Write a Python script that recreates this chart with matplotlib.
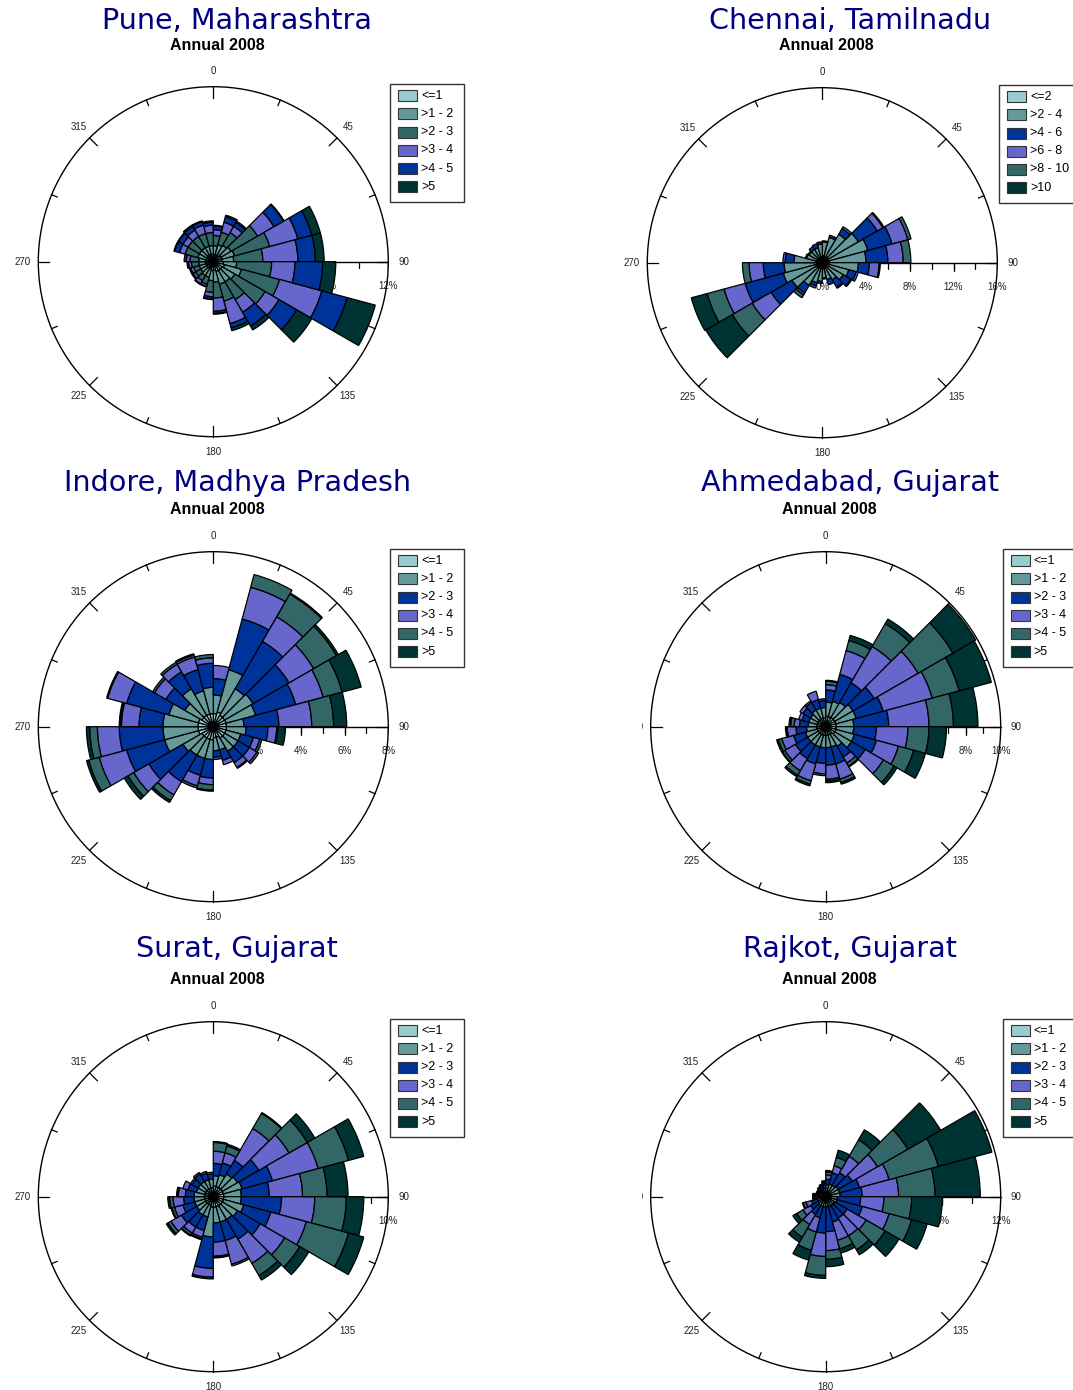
import numpy as np
import matplotlib
matplotlib.use("Agg")
import matplotlib.pyplot as plt
from matplotlib.patches import Rectangle
from matplotlib.transforms import offset_copy, Bbox, TransformedBbox

# wind direction sectors (start of each 15 degree bin)
sectors = list(range(0, 360, 15))

# wind speed classes for each station
pune_classes = ["<=1", ">1 - 2", ">2 - 3", ">3 - 4", ">4 - 5", ">5"]
chennai_classes = ["<=2", ">2 - 4", ">4 - 6", ">6 - 8", ">8 - 10", ">10"]
std_classes = ["<=1", ">1 - 2", ">2 - 3", ">3 - 4", ">4 - 5", ">5"]

# frequency (%) per speed class, one row per class, one value per sector
pune = [
    [0.5, 0.5, 0.5, 0.6, 0.6, 0.6, 0.7, 0.8, 0.7, 0.7, 0.7, 0.6, 0.6, 0.5, 0.5, 0.5, 0.5, 0.5, 0.5, 0.5, 0.5, 0.5, 0.5, 0.5],
    [0.6, 0.7, 0.8, 0.8, 0.9, 0.8, 0.9, 1.2, 1.0, 0.9, 0.9, 0.8, 0.7, 0.6, 0.6, 0.5, 0.5, 0.5, 0.5, 0.6, 0.6, 0.6, 0.6, 0.6],
    [0.7, 0.9, 1.0, 2.1, 2.5, 2.0, 2.4, 2.7, 2.4, 1.4, 1.2, 1.1, 0.8, 0.5, 0.4, 0.4, 0.4, 0.5, 0.6, 0.9, 0.9, 0.9, 0.9, 0.9],
    [0.4, 0.7, 0.5, 1.3, 2.0, 2.4, 1.6, 3.0, 1.1, 1.0, 1.6, 0.9, 0.3, 0.15, 0.25, 0.2, 0.2, 0.2, 0.25, 0.4, 0.4, 0.5, 0.6, 0.5],
    [0.25, 0.4, 0.3, 0.75, 1.0, 1.2, 1.9, 1.8, 1.4, 1.1, 0.3, 0.15, 0.15, 0.05, 0.05, 0.1, 0.1, 0.1, 0.15, 0.35, 0.35, 0.3, 0.25, 0.2],
    [0.05, 0.1, 0.1, 0.05, 0.6, 0.6, 0.9, 2.0, 1.2, 0.3, 0.2, 0.05, 0.05, 0, 0, 0, 0, 0, 0, 0.05, 0.05, 0.1, 0.05, 0.1],
]

chennai = [
    [0.6, 0.6, 0.6, 0.6, 0.6, 0.6, 0.6, 0.5, 0.5, 0.5, 0.5, 0.5, 0.5, 0.5, 0.5, 0.6, 0.6, 0.5, 0.5, 0.5, 0.5, 0.5, 0.5, 0.5],
    [1.3, 1.8, 2.4, 3.2, 3.7, 3.4, 2.7, 2.0, 1.7, 1.3, 1.1, 0.9, 1.2, 1.4, 1.9, 2.6, 3.1, 3.0, 2.1, 1.0, 0.9, 0.9, 0.9, 1.2],
    [0.1, 0.2, 0.6, 2.0, 2.3, 2.0, 1.0, 0.7, 0.8, 0.8, 0.5, 0.1, 0.2, 0.3, 0.8, 2.2, 3.6, 1.9, 0.8, 0.1, 0.1, 0.3, 0.4, 0.2],
    [0, 0, 0.2, 0.6, 1.5, 1.4, 0.9, 0.2, 0.1, 0.1, 0, 0, 0, 0.2, 0.2, 2.0, 2.0, 1.3, 0.2, 0, 0, 0, 0, 0],
    [0, 0, 0, 0.1, 0.3, 0.7, 0.1, 0, 0, 0, 0, 0, 0, 0, 0.3, 2.1, 1.6, 0.6, 0, 0, 0, 0, 0, 0],
    [0, 0, 0, 0, 0, 0, 0, 0, 0, 0, 0, 0, 0, 0, 0, 2.8, 1.5, 0, 0, 0, 0, 0, 0, 0],
]

indore = [
    [0.6, 0.7, 0.6, 0.6, 0.6, 0.6, 0.6, 0.6, 0.6, 0.6, 0.5, 0.5, 0.6, 0.6, 0.6, 0.6, 0.7, 0.7, 0.7, 0.7, 0.6, 0.6, 0.6, 0.6],
    [0.85, 2.0, 1.4, 1.5, 1.4, 0.8, 0.9, 0.7, 0.7, 0.7, 0.6, 0.6, 0.9, 0.9, 0.9, 1.0, 1.6, 1.6, 1.6, 1.4, 0.9, 1.4, 1.1, 1.2],
    [0.75, 2.4, 2.5, 1.9, 1.9, 1.6, 1.0, 0.6, 0.6, 0.6, 0.5, 0.3, 0.85, 0.8, 1.4, 1.8, 1.8, 2.0, 1.1, 2.0, 1.0, 0.9, 1.0, 1.1],
    [0.6, 1.5, 1.3, 1.3, 1.3, 1.5, 0.4, 0.3, 0.4, 0.25, 0.2, 0.1, 0.3, 0.5, 0.7, 0.8, 1.3, 1.0, 0.8, 0.9, 0.6, 0.4, 0.6, 0.25],
    [0, 0.6, 1.2, 1.2, 0.9, 1.0, 0.05, 0.1, 0.1, 0.05, 0, 0, 0.25, 0.1, 0.3, 0.3, 0.5, 0.35, 0.05, 0.05, 0.1, 0.1, 0.1, 0.15],
    [0, 0, 0.05, 0.1, 0.9, 0.6, 0.35, 0, 0, 0, 0, 0, 0.05, 0, 0.1, 0.2, 0.1, 0.15, 0.05, 0, 0, 0, 0.05, 0],
]

ahmedabad = [
    [0.6, 0.6, 0.6, 0.6, 0.6, 0.6, 0.6, 0.6, 0.6, 0.5, 0.5, 0.5, 0.5, 0.5, 0.5, 0.5, 0.5, 0.5, 0.5, 0.5, 0.5, 0.5, 0.5, 0.5],
    [0.8, 0.9, 1.0, 1.2, 1.2, 1.0, 1.0, 1.1, 1.1, 0.8, 0.7, 0.7, 0.7, 0.7, 0.7, 0.7, 0.7, 0.6, 0.5, 0.5, 0.5, 0.6, 0.6, 0.6],
    [0.7, 1.6, 1.3, 1.4, 1.6, 2.0, 1.3, 1.3, 0.9, 0.7, 1.0, 1.0, 0.9, 1.0, 0.9, 0.8, 0.7, 0.6, 0.5, 0.4, 0.5, 0.5, 0.5, 0.4],
    [0.3, 1.4, 2.4, 2.9, 2.9, 2.3, 1.8, 1.3, 1.2, 0.4, 0.9, 0.8, 0.6, 1.0, 0.8, 0.7, 0.7, 0.5, 0.3, 0.2, 0.2, 0.1, 0.5, 0.1],
    [0.2, 0.6, 1.5, 2.3, 1.6, 1.4, 1.2, 0.9, 0.7, 0.2, 0.2, 0.1, 0.1, 0.2, 0.3, 0.15, 0.2, 0.05, 0.2, 0, 0, 0, 0, 0],
    [0.05, 0.3, 0.3, 1.5, 1.9, 1.4, 1.0, 0.7, 0.2, 0.05, 0.1, 0.1, 0, 0.1, 0.1, 0.05, 0.1, 0.05, 0.1, 0, 0, 0, 0, 0],
]

surat = [
    [0.6, 0.6, 0.6, 0.6, 0.6, 0.6, 0.6, 0.6, 0.6, 0.6, 0.6, 0.6, 0.6, 0.5, 0.5, 0.5, 0.5, 0.5, 0.5, 0.5, 0.5, 0.5, 0.5, 0.5],
    [0.6, 0.7, 0.9, 1.0, 1.1, 1.0, 1.0, 1.2, 1.0, 0.9, 0.9, 0.9, 1.7, 0.7, 0.7, 0.6, 0.6, 0.6, 0.6, 0.5, 0.5, 0.5, 0.5, 0.5],
    [0.7, 0.7, 0.9, 1.4, 1.8, 1.6, 2.3, 1.6, 1.5, 1.3, 1.1, 1.1, 1.8, 0.8, 0.8, 1.0, 0.7, 0.6, 0.5, 0.5, 0.4, 0.5, 0.4, 0.3],
    [0.7, 0.6, 2.1, 2.0, 2.7, 1.9, 1.9, 2.1, 1.6, 1.6, 1.4, 0.8, 0.5, 0.4, 0.4, 0.7, 0.5, 0.6, 0.4, 0.3, 0.1, 0.1, 0.1, 0.1],
    [0.5, 0.4, 1.0, 1.2, 1.8, 1.4, 1.8, 2.5, 1.0, 0.8, 0.1, 0.05, 0, 0.1, 0.15, 0.2, 0.15, 0.2, 0.05, 0, 0, 0, 0, 0],
    [0.05, 0.1, 0.05, 0.5, 0.9, 1.2, 1.0, 0.9, 0.6, 0.3, 0, 0.05, 0.1, 0.05, 0.05, 0.1, 0.05, 0.1, 0.05, 0, 0, 0, 0, 0],
]

rajkot = [
    [0.3, 0.3, 0.3, 0.3, 0.3, 0.3, 0.2, 0.2, 0.2, 0.2, 0.2, 0.2, 0.2, 0.2, 0.2, 0.2, 0.2, 0.2, 0.2, 0.2, 0.2, 0.2, 0.2, 0.2],
    [0.5, 0.6, 0.6, 0.7, 0.7, 0.7, 0.6, 0.6, 0.5, 0.5, 0.5, 0.5, 0.5, 0.5, 0.5, 0.4, 0.4, 0.3, 0.3, 0.3, 0.3, 0.3, 0.3, 0.4],
    [0.4, 0.8, 1.0, 1.1, 1.4, 1.5, 1.6, 1.8, 1.0, 1.0, 1.1, 1.7, 1.8, 0.8, 0.7, 0.6, 0.4, 0.2, 0.2, 0.1, 0.1, 0.1, 0.2, 0.2],
    [0.3, 0.5, 1.3, 2.0, 2.1, 2.5, 1.6, 1.9, 1.5, 1.4, 1.3, 1.3, 1.6, 1.0, 0.8, 0.6, 0.4, 0.1, 0.1, 0.1, 0.1, 0.1, 0.1, 0.1],
    [0.2, 0.6, 1.3, 2.4, 3.5, 2.5, 1.9, 1.6, 1.5, 1.1, 0.6, 0.6, 1.3, 1.3, 1.0, 0.5, 0.2, 0.05, 0.05, 0, 0, 0.05, 0.05, 0.1],
    [0.1, 0.5, 0.8, 2.6, 3.8, 3.1, 2.1, 1.1, 1.1, 0.4, 0.3, 0.5, 0.2, 0.7, 0.4, 0.3, 0.05, 0.05, 0.05, 0, 0, 0.05, 0.05, 0.1],
]

# colours
light = "#99cccc"
teal = "#669999"
dteal = "#336666"
purple = "#6666cc"
blue = "#003399"
darkest = "#003333"
pune_colors = [light, teal, dteal, purple, blue, darkest]
std_colors = [light, teal, blue, purple, dteal, darkest]

W, H = 1073, 1390
R = 175  # radius of the rose in pixels

plt.rcParams["font.family"] = ["Liberation Sans", "DejaVu Sans"]
fig = plt.figure(figsize=(W / 100, H / 100), dpi=100)


def fx(x):
    return x / W


def fy(y):
    return 1 - y / H


def draw_rose(cx, cy, title, title_x, title_y, sub_y, data, classes, colors,
              rmax, minor_step, label_step, legend_w=74, clip_left=False):
    ax = fig.add_axes([fx(cx - R), fy(cy + R), 2 * R / W, 2 * R / H], projection="polar")
    ax.set_theta_zero_location("N")
    ax.set_theta_direction(-1)
    ax.set_ylim(0, rmax)
    ax.set_xticks([])
    ax.set_yticks([])
    ax.grid(False)
    ax.patch.set_alpha(0)
    ax.spines["polar"].set_linewidth(1.0)

    theta = np.deg2rad(np.array(sectors) + 7.5)
    width = np.deg2rad(15)
    bottom = np.zeros(len(sectors))
    for vals, col in zip(data, colors):
        vals = np.array(vals, dtype=float)
        keep = vals > 0
        ax.bar(theta[keep], vals[keep], width=width, bottom=bottom[keep], color=col,
               edgecolor="black", linewidth=0.9, zorder=3)
        bottom = bottom + vals

    # compass ticks on the outer circle
    for a in np.arange(0, 360, 22.5):
        L = 11 if a % 45 == 0 else 6
        t = np.deg2rad(a)
        ax.plot([t, t], [rmax * (1 - L / R), rmax], color="black", lw=0.9, zorder=2, clip_on=False)
    for a in range(0, 360, 45):
        txt = ax.text(np.deg2rad(a), rmax * 1.087, str(a), ha="center", va="center",
                      fontsize=7, color="#222222", clip_on=False)
        if clip_left and a == 270:
            txt.set_clip_on(True)
            txt.set_clip_box(TransformedBbox(Bbox([[642 / W, 0], [1, 1]]), fig.transFigure))

    # radial axis along 90 degrees
    ax.plot([np.pi / 2, np.pi / 2], [0, rmax], color="black", lw=1.0, zorder=2)
    minor = np.arange(minor_step, rmax + 1e-6, minor_step)
    major = np.arange(0, rmax + 1e-6, label_step)
    ax.plot(np.full(len(minor), np.pi / 2), minor, ls="none", marker=3, ms=4.5,
            mew=0.9, color="black", zorder=1.5)
    ax.plot(np.full(len(major), np.pi / 2), major, ls="none", marker=3, ms=6,
            mew=0.9, color="black", zorder=1.5)
    trans = offset_copy(ax.transData, fig=fig, y=-24, units="dots")
    for v in major:
        ax.text(np.pi / 2, v, f"{v:g}%", transform=trans, ha="center", va="center",
                fontsize=7, color="#222222", zorder=1)

    # titles
    fig.text(fx(title_x), fy(title_y), title, fontsize=20.6, color="#000080",
             ha="center", va="center", family="DejaVu Sans")
    fig.text(fx(cx + 4), fy(sub_y), "Annual 2008", fontsize=11.5, fontweight="bold",
             ha="center", va="center")

    # legend box
    left = cx + 177
    top = cy - 178
    fig.add_artist(Rectangle((fx(left), fy(top + 118)), legend_w / W, 118 / H,
                             transform=fig.transFigure, facecolor="white",
                             edgecolor="#333333", lw=1.0))
    for i, (lab, col) in enumerate(zip(classes, colors)):
        yc = top + 12 + 18.2 * i
        fig.add_artist(Rectangle((fx(left + 8), fy(yc + 5.5)), 19 / W, 11 / H,
                                 transform=fig.transFigure, facecolor=col,
                                 edgecolor="#333333", lw=0.8))
        fig.text(fx(left + 31), fy(yc), lab, fontsize=9, ha="left", va="center")


draw_rose(213.3, 261.7, "Pune, Maharashtra", 237, 21, 45, pune, pune_classes,
          pune_colors, 12, 2, 4)
draw_rose(822.3, 262.7, "Chennai, Tamilnadu", 850, 21, 46, chennai, chennai_classes,
          std_colors, 16, 2, 4, legend_w=80)
draw_rose(213.3, 726.7, "Indore, Madhya Pradesh", 237, 483, 510, indore, std_classes,
          std_colors, 8, 1, 2)
draw_rose(825.7, 726.7, "Ahmedabad, Gujarat", 850, 483, 510, ahmedabad, std_classes,
          std_colors, 10, 1, 2, clip_left=True)
draw_rose(213.3, 1196.7, "Surat, Gujarat", 237, 949, 980, surat, std_classes,
          std_colors, 10, 1, 2)
draw_rose(825.7, 1196.7, "Rajkot, Gujarat", 850, 949, 980, rajkot, std_classes,
          std_colors, 12, 2, 4, clip_left=True)

fig.savefig("out.png", dpi=100)
